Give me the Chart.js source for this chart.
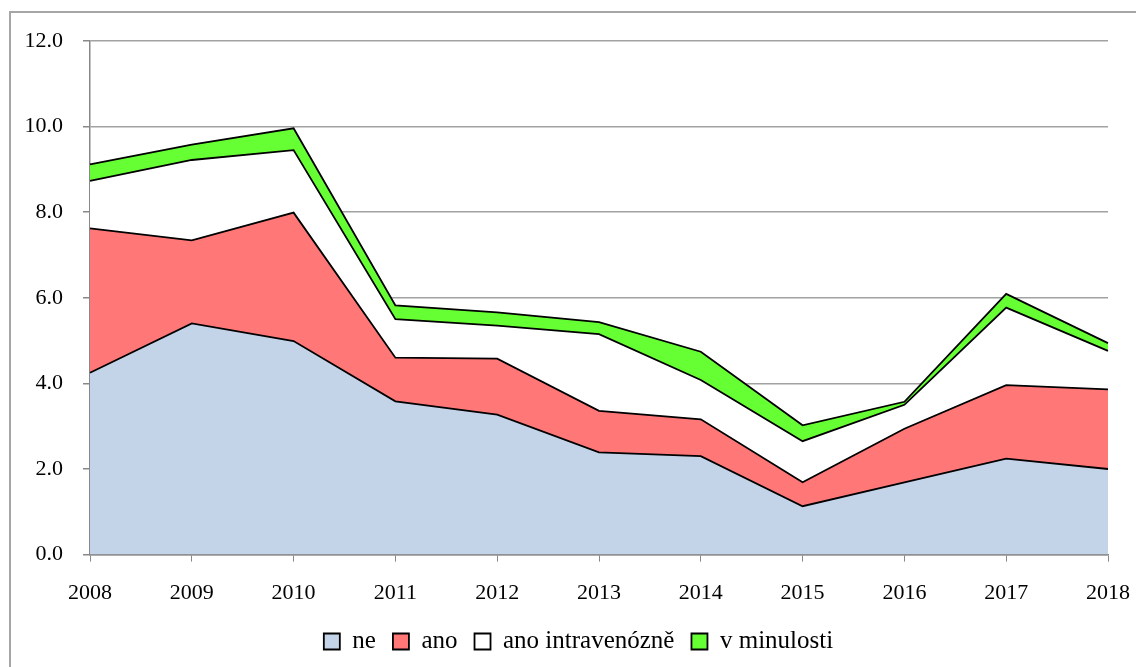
<!DOCTYPE html>
<html>
<head>
<meta charset="utf-8">
<script src="https://cdn.jsdelivr.net/npm/chart.js@4/dist/chart.umd.min.js"></script>
<style>
html,body{margin:0;padding:0;background:#fff;overflow:hidden;width:1136px;height:667px;}
#frame{position:absolute;left:9px;top:11px;width:1300px;height:900px;border:2px solid #a6a6a6;box-sizing:border-box;}
#wrap{position:absolute;left:0;top:0;width:1136px;height:680px;}
</style>
</head>
<body>
<div id="frame"></div>
<div id="wrap"><canvas id="c" width="1136" height="680"></canvas></div>
<script>
const years = ['2008','2009','2010','2011','2012','2013','2014','2015','2016','2017','2018'];
const ne = [4.25, 5.40, 4.99, 3.58, 3.27, 2.39, 2.30, 1.13, 1.69, 2.24, 2.00];
const ano = [3.37, 1.94, 3.00, 1.02, 1.31, 0.97, 0.86, 0.56, 1.25, 1.72, 1.86];
const anoIntravenozne = [1.11, 1.88, 1.46, 0.90, 0.77, 1.79, 0.92, 0.96, 0.56, 1.81, 0.90];
const vMinulosti = [0.39, 0.36, 0.51, 0.32, 0.31, 0.28, 0.66, 0.37, 0.07, 0.32, 0.18];
const seriesNames = ['ne', 'ano', 'ano intravenózně', 'v minulosti'];
const yTicks = [0, 2, 4, 6, 8, 10, 12];

const fills = ['#c3d3e8', '#ff7777', '#ffffff', '#66ff33'];
const seriesData = [ne, ano, anoIntravenozne, vMinulosti];

const datasets = seriesData.map((d, i) => ({
  label: seriesNames[i],
  data: d,
  backgroundColor: fills[i],
  borderColor: '#000000',
  borderWidth: 1.8,
  fill: i === 0 ? 'origin' : '-1',
  tension: 0,
  pointRadius: 0,
  pointHoverRadius: 0
}));

const FONT = 'Liberation Serif';

const legendShift = {
  id: 'legendShift',
  afterLayout(chart) {
    if (chart.legend) { chart.legend.left += 13; chart.legend.right += 13; }
  }
};

new Chart(document.getElementById('c'), {
  type: 'line',
  data: { labels: years, datasets },
  plugins: [legendShift],
  options: {
    responsive: false,
    animation: false,
    events: [],
    layout: { padding: { left: 23, right: 28, top: 41, bottom: 16 } },
    plugins: {
      tooltip: { enabled: false },
      legend: {
        position: 'bottom',
        labels: {
          font: { family: FONT, size: 25, lineHeight: 1.2 },
          color: '#000',
          boxWidth: 16,
          boxHeight: 16,
          padding: 17
        }
      }
    },
    scales: {
      x: {
        z: 1,
        offset: false,
        afterFit: (s) => { s.height = s.height - 12; s.paddingRight = 0; s.paddingLeft = 0; },
        grid: { display: true, drawOnChartArea: false, drawTicks: true, tickLength: 7, tickColor: '#888', color: '#888' },
        border: { display: true, color: '#888', width: 1.5 },
        ticks: { font: { family: FONT, size: 22 }, color: '#000', padding: 18, maxRotation: 0, autoSkip: false }
      },
      y: {
        z: 1,
        stacked: true,
        min: 0,
        max: 12,
        afterFit: (s) => { s.width = 67; },
        afterBuildTicks: (s) => { s.ticks = yTicks.map(v => ({ value: v })); },
        grid: { color: 'rgba(100,100,100,0.6)', lineWidth: 1.5, tickLength: 7, tickColor: '#888' },
        border: { display: true, color: '#888', width: 1.5 },
        ticks: { font: { family: FONT, size: 22 }, color: '#000', padding: 20, callback: v => Number(v).toFixed(1) }
      }
    }
  }
});
</script>
</body>
</html>
